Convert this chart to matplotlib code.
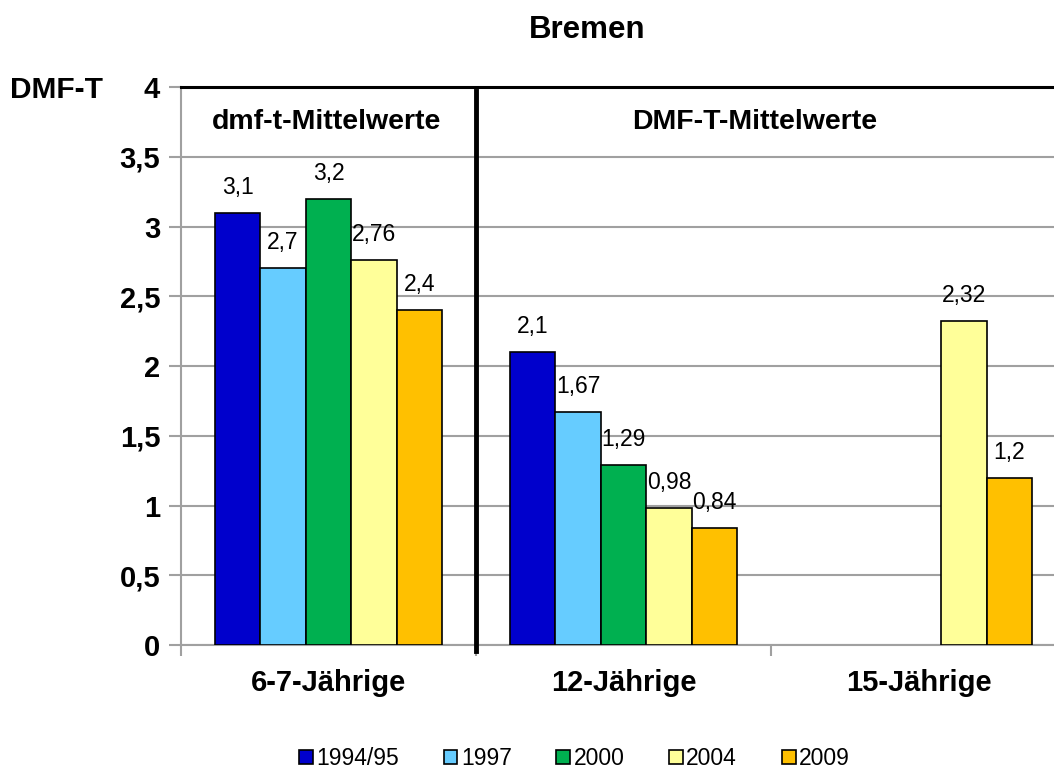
import matplotlib.pyplot as plt
import numpy as np

plt.rcParams['font.family'] = ['Liberation Sans', 'DejaVu Sans']

# data
groups = ['6-7-Jährige', '12-Jährige', '15-Jährige']
years = ['1994/95', '1997', '2000', '2004', '2009']
colors = ['#0000CC', '#66CCFF', '#00B050', '#FFFF99', '#FFC000']
values = {
    '1994/95': [3.1, 2.1, None],
    '1997': [2.7, 1.67, None],
    '2000': [3.2, 1.29, None],
    '2004': [2.76, 0.98, 2.32],
    '2009': [2.4, 0.84, 1.2],
}
section_labels = ['dmf-t-Mittelwerte', 'DMF-T-Mittelwerte']
yticks = [0, 0.5, 1, 1.5, 2, 2.5, 3, 3.5, 4]


def de(v):
    # german decimal comma
    s = f'{v:g}'
    return s.replace('.', ',')


fig = plt.figure(figsize=(10.54, 7.7), dpi=100)
ax = fig.add_axes([0.1717, 0.1623, 0.8397, 0.7247])

grid_c = '#A0A0A0'
bw = 0.154
x = np.arange(len(groups))
for k, yr in enumerate(years):
    for i, v in enumerate(values[yr]):
        if v is None:
            continue
        xi = x[i] + (k - 2) * bw
        ax.bar(xi, v, width=bw, color=colors[k], edgecolor='black', linewidth=1.2, zorder=3)
        ax.annotate(de(v), (xi, v), xytext=(0, 10), textcoords='offset points',
                    ha='center', va='bottom', fontsize=16.5)

ax.set_xlim(-0.5, 2.5)
ax.set_ylim(0, 4)

ax.set_yticks(yticks)
ax.set_yticklabels([de(t) for t in yticks], fontsize=21, fontweight='bold')
ax.yaxis.grid(True, color=grid_c, linewidth=1.5, zorder=0)
ax.tick_params(axis='y', direction='out', length=9, width=1.5, color=grid_c, pad=6)

ax.set_xticks([-0.5, 0.5, 1.5, 2.5])
ax.set_xticklabels([])
ax.set_xticks(x, minor=True)
ax.set_xticklabels(groups, minor=True, fontsize=21, fontweight='bold')
ax.tick_params(axis='x', which='major', direction='out', length=8, width=1.5, color=grid_c)
ax.tick_params(axis='x', which='minor', length=0, pad=17)

for s in ['left', 'bottom']:
    ax.spines[s].set_color(grid_c)
    ax.spines[s].set_linewidth(1.5)
ax.spines['right'].set_visible(False)
ax.spines['top'].set_color('black')
ax.spines['top'].set_linewidth(2.2)

# separator between dmf-t and DMF-T sections
ax.plot([0.5, 0.5], [-0.04, 3.97], color='black', linewidth=3.5, clip_on=False, zorder=4)

ax.text(-0.005, 3.75, section_labels[0], ha='center', va='center', fontsize=20.5, fontweight='bold')
ax.text(1.446, 3.75, section_labels[1], ha='center', va='center', fontsize=20.5, fontweight='bold')

fig.text(0.557, 0.961, 'Bremen', ha='center', va='center', fontsize=22.5, fontweight='bold')
fig.text(0.0095, 0.883, 'DMF-T', ha='left', va='center', fontsize=21.5, fontweight='bold')

handles = [plt.Rectangle((0, 0), 1, 1, facecolor=c, edgecolor='black', linewidth=1.2) for c in colors]
fig.legend(handles, years, loc='center', bbox_to_anchor=(0.545, 0.015), ncol=5, frameon=False,
           fontsize=16.5, handlelength=0.6, handleheight=0.6, handletextpad=0.15, columnspacing=1.95)

fig.savefig('out.png', dpi=100)
